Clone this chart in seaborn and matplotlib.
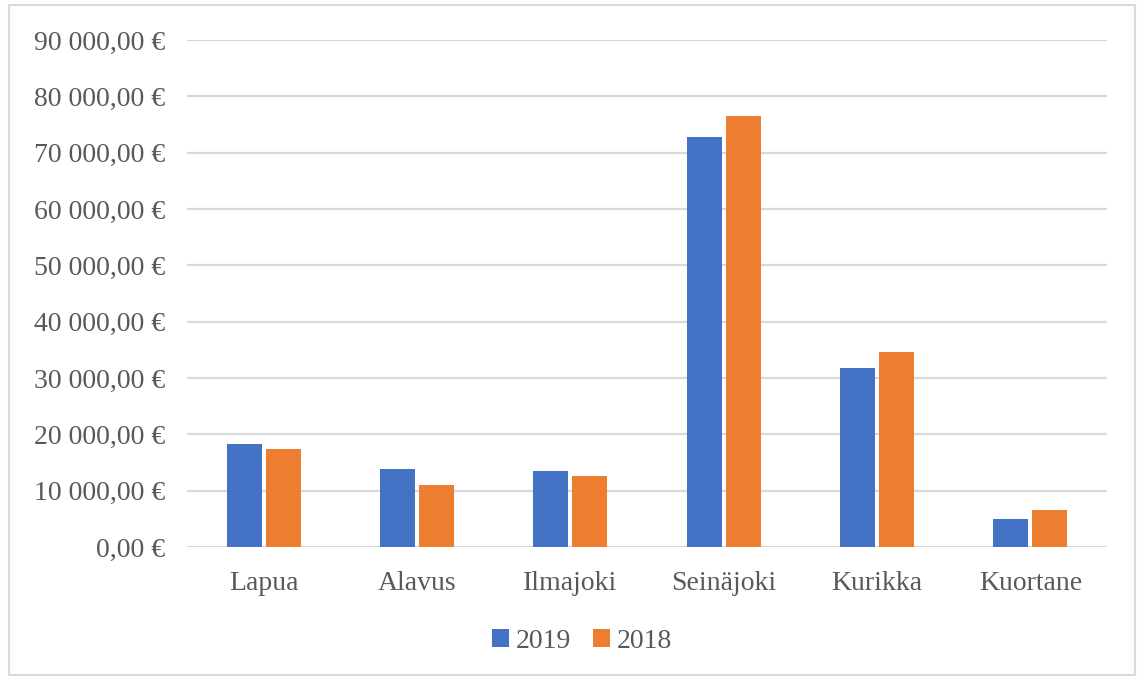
import matplotlib
matplotlib.use("Agg")
import matplotlib.pyplot as plt
import seaborn as sns
import pandas as pd
from matplotlib.ticker import FuncFormatter, MultipleLocator
from matplotlib.patches import Rectangle

categories = ["Lapua", "Alavus", "Ilmajoki", "Seinäjoki", "Kurikka", "Kuortane"]
values_2019 = [18240, 13930, 13450, 72860, 31840, 4960]
values_2018 = [17400, 11080, 12610, 76430, 34680, 6490]
series = ["2019", "2018"]

df = pd.DataFrame({
    "kunta": categories * 2,
    "vuosi": [series[0]] * len(categories) + [series[1]] * len(categories),
    "arvo": values_2019 + values_2018,
})

sns.set_theme(style="white")
plt.rcParams["font.family"] = ["Liberation Serif", "DejaVu Serif"]

fig = plt.figure(figsize=(11.41, 6.78), dpi=100)
ax = fig.add_axes([187/1141, 1-547/678, (1107-187)/1141, (547-40)/678])

sns.barplot(data=df, x="kunta", y="arvo", hue="vuosi", hue_order=series,
            palette=["#4472C4", "#ED7D31"], saturation=1, width=0.51, gap=0.1,
            errorbar=None, ax=ax, zorder=3, linewidth=0)

ax.set_ylim(0, 90000)
ax.yaxis.set_major_locator(MultipleLocator(10000))

def fmt(v, pos):
    s = f"{v:,.2f}".replace(",", " ").replace(".", ",")
    return s + " €"

ax.yaxis.set_major_formatter(FuncFormatter(fmt))
ax.grid(axis="y", color="#D9D9D9", linewidth=1.6, zorder=0)
ax.set_axisbelow(True)
for s in ax.spines.values():
    s.set_visible(False)
ax.set_xlabel("")
ax.set_ylabel("")
ax.tick_params(axis="y", labelsize=20, labelcolor="#595959", length=0, pad=16)
ax.tick_params(axis="x", labelsize=20, labelcolor="#595959", length=0, pad=17)
ax.set_xlim(-0.5, len(categories) - 0.5)

handles, labels = ax.get_legend_handles_labels()
ax.get_legend().remove()
leg = fig.legend(handles, labels, loc="center", bbox_to_anchor=(582/1141, 1-641/678),
                 ncol=2, frameon=False, fontsize=20, handlelength=0.6, handleheight=0.6,
                 handletextpad=0.25, columnspacing=0.8)
for t in leg.get_texts():
    t.set_color("#595959")

fig.patches.append(Rectangle((9/1141, 3/678), (1135-9)/1141, (673-3)/678,
                             transform=fig.transFigure, fill=False,
                             edgecolor="#D9D9D9", linewidth=1.5))

fig.savefig("out.png", dpi=100)
